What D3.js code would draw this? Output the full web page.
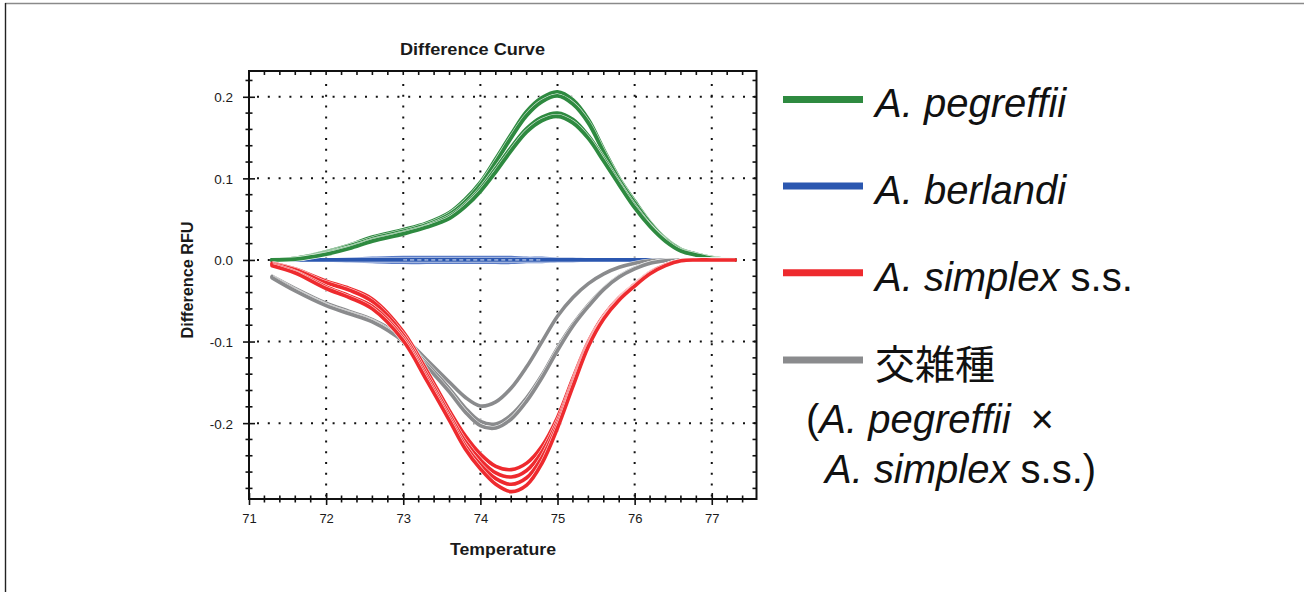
<!DOCTYPE html>
<html>
<head>
<meta charset="utf-8">
<script src="https://cdn.jsdelivr.net/npm/d3@7"></script>
<style>
  html, body { margin: 0; padding: 0; background: #fff; }
  svg { display: block; }
  text { font-family: "Liberation Sans", Arial, sans-serif; }
</style>
</head>
<body>
<div id="chart"></div>
<script>
// difference curve values
var temps = [71.3, 71.6, 72.0, 72.3, 72.6, 73.0, 73.3, 73.6, 73.8, 74.0, 74.2, 74.4, 74.6, 74.8, 75.0, 75.2, 75.4, 75.6, 75.8, 76.0, 76.2, 76.4, 76.6, 76.8, 77.0, 77.3]

var pegreffii = [
  [0, .002, .010, .018, .028, .037, .045, .058, .074, .095, .124, .154, .182, .199, .206, .196, .172, .135, .100, .072, .046, .026, .013, .007, .003, 0],
  [0, .002, .009, .017, .026, .035, .043, .056, .071, .092, .120, .150, .177, .194, .201, .191, .168, .132, .098, .070, .045, .025, .013, .007, .003, 0],
  [0, .001, .008, .015, .024, .033, .041, .053, .067, .087, .112, .138, .161, .175, .180, .172, .152, .124, .094, .066, .042, .024, .012, .006, .002, 0],
  [0, .001, .007, .014, .023, .032, .040, .051, .065, .084, .108, .134, .157, .171, .176, .168, .149, .121, .092, .064, .041, .023, .011, .006, .002, 0]
]
var berlandi = [
  [0, 0, 0, .001, .002, .003, .003, .003, .003, .003, .003, .003, .002, .002, .001, .001, 0, 0, 0, 0, 0, 0, 0, 0, 0, 0],
  [0, 0, 0, -.001, -.002, -.003, -.003, -.003, -.003, -.003, -.003, -.003, -.002, -.002, -.001, -.001, 0, 0, 0, 0, 0, 0, 0, 0, 0, 0],
  [0, 0, 0, 0, 0, 0, 0, 0, 0, 0, 0, 0, 0, 0, 0, 0, 0, 0, 0, 0, 0, 0, 0, 0, 0, 0]
]
var simplex = [
  [-.004, -.011, -.026, -.035, -.048, -.088, -.135, -.185, -.215, -.238, -.253, -.257, -.249, -.228, -.193, -.145, -.100, -.068, -.046, -.030, -.015, -.006, -.001, 0, 0, 0],
  [-.005, -.012, -.028, -.037, -.051, -.092, -.140, -.190, -.222, -.245, -.261, -.266, -.258, -.235, -.198, -.149, -.102, -.070, -.047, -.031, -.016, -.006, -.001, 0, 0, 0],
  [-.006, -.015, -.033, -.044, -.057, -.096, -.144, -.194, -.227, -.251, -.268, -.275, -.267, -.242, -.202, -.152, -.104, -.071, -.048, -.031, -.016, -.006, -.001, 0, 0, 0],
  [-.007, -.016, -.035, -.046, -.060, -.099, -.147, -.197, -.231, -.256, -.275, -.284, -.276, -.249, -.206, -.155, -.106, -.072, -.049, -.032, -.017, -.007, -.001, 0, 0, 0]
]
var hybrid = [
  [-.020, -.035, -.053, -.063, -.073, -.095, -.122, -.150, -.168, -.179, -.174, -.157, -.131, -.100, -.069, -.046, -.029, -.017, -.009, -.004, -.001, 0, 0, 0, 0, 0],
  [-.021, -.037, -.055, -.065, -.075, -.098, -.127, -.158, -.181, -.198, -.201, -.190, -.169, -.141, -.108, -.079, -.055, -.035, -.020, -.010, -.004, -.001, 0, 0, 0, 0],
  [-.022, -.038, -.056, -.066, -.076, -.100, -.130, -.162, -.186, -.203, -.206, -.195, -.173, -.144, -.111, -.081, -.057, -.036, -.021, -.011, -.004, -.001, 0, 0, 0, 0]
]

var xMajor = [71, 72, 73, 74, 75, 76, 77]
var yMajor = [-0.2, -0.1, 0, 0.1, 0.2]

var legendNames = ['A. pegreffii', 'A. berlandi', 'A. simplex', '交雑種']
var legendSuffix = ['', '', ' s.s.', '']
var colors = ['#2e8a40', '#2b57b0', '#ee2a2e', '#8a8b8d']

var W = 1304, H = 592
var plot = {left: 249, right: 756.5, top: 71, bottom: 499}

var svg = d3.select('#chart').append('svg').attr('width', W).attr('height', H)
svg.append('rect').attr('width', W).attr('height', H).attr('fill', '#fff')

// page border bits
svg.append('line').attr('x1', 5).attr('x2', W).attr('y1', 3.5).attr('y2', 3.5).attr('stroke', '#8a8a8a').attr('stroke-width', 1.6)
svg.append('line').attr('x1', 5.5).attr('x2', 5.5).attr('y1', 3).attr('y2', H).attr('stroke', '#222').attr('stroke-width', 1.4)

var x = d3.scaleLinear().domain([71, 77.58]).range([plot.left, plot.right])
var y = d3.scaleLinear().domain([-0.293, 0.2316]).range([plot.bottom, plot.top])

// dotted grid
var grid = svg.append('g')
grid.selectAll('.hg').data(yMajor).enter().append('line')
  .attr('x1', plot.left + 8).attr('x2', plot.right)
  .attr('y1', function(d) { return y(d) }).attr('y2', function(d) { return y(d) })
  .attr('stroke', '#111').attr('stroke-width', 2).attr('stroke-dasharray', '2,8.8')
grid.selectAll('.vg').data(xMajor.slice(1)).enter().append('line')
  .attr('y1', plot.top + 13).attr('y2', plot.bottom)
  .attr('x1', function(d) { return x(d) }).attr('x2', function(d) { return x(d) })
  .attr('stroke', '#111').attr('stroke-width', 2).attr('stroke-dasharray', '2,8.8')

// curves
var line = d3.line()
  .x(function(d) { return x(d[0]) })
  .y(function(d) { return y(d[1]) })
  .curve(d3.curveCatmullRom.alpha(0.5))

var toPts = function(vals) { return vals.map(function(v, i) { return [temps[i], v] }) }

var drawGroup = function(group, color, w) {
  var g = svg.append('g')
  group.forEach(function(vals) {
    g.append('path').attr('d', line(toPts(vals))).attr('fill', 'none')
      .attr('stroke', '#fff').attr('stroke-width', w + 1.1).attr('stroke-opacity', 0.85)
    g.append('path').attr('d', line(toPts(vals))).attr('fill', 'none')
      .attr('stroke', color).attr('stroke-width', w).attr('stroke-linecap', 'round')
  })
}

drawGroup(berlandi.slice(0, 2), '#5a7bc6', 3.4)
drawGroup(berlandi.slice(2), colors[1], 3.8)
// white dashed trace through the middle of the blue bundle
var mid = toPts(berlandi[2]).filter(function(p) { return p[0] >= 72.9 && p[0] <= 74.9 })
svg.append('path').attr('d', line(mid)).attr('fill', 'none')
  .attr('stroke', '#fff').attr('stroke-width', 1).attr('stroke-dasharray', '4,3').attr('opacity', 0.85)
drawGroup(hybrid, colors[3], 3.6)
drawGroup(pegreffii, colors[0], 3.8)
drawGroup(simplex, colors[2], 3.6)

// frame
svg.append('rect').attr('x', plot.left).attr('y', plot.top)
  .attr('width', plot.right - plot.left).attr('height', plot.bottom - plot.top)
  .attr('fill', 'none').attr('stroke', '#111').attr('stroke-width', 2)

var xMinor = d3.range(71.2, 77.58, 0.2).filter(function(d) { return Math.abs(d - Math.round(d)) > 0.05 })
var yMinor = d3.range(-0.28, 0.23, 0.02).filter(function(d) { return Math.abs(d * 10 - Math.round(d * 10)) > 0.05 })

// axes (labels + major ticks crossing the frame)
var xAxis = svg.append('g').attr('transform', 'translate(0,' + plot.bottom + ')')
  .call(d3.axisBottom(x).tickValues(xMajor).tickSize(6).tickFormat(d3.format('d')))
xAxis.select('.domain').remove()
xAxis.selectAll('.tick line').attr('y1', -6).attr('stroke', '#111').attr('stroke-width', 1.6)
xAxis.selectAll('.tick text').attr('dy', null).attr('y', 24).attr('fill', '#1a1a1a')
  .style('font-size', '13px').style('font-family', '"Liberation Sans", Arial, sans-serif')

var yAxis = svg.append('g').attr('transform', 'translate(' + plot.left + ',0)')
  .call(d3.axisLeft(y).tickValues(yMajor).tickSize(6).tickPadding(10)
    .tickFormat(function(d) { return d.toFixed(1) }))
yAxis.select('.domain').remove()
yAxis.selectAll('.tick line').attr('x1', 6).attr('stroke', '#111').attr('stroke-width', 1.6)
yAxis.selectAll('.tick text').attr('dy', '0.36em').attr('fill', '#1a1a1a')
  .style('font-size', '13.5px').style('font-family', '"Liberation Sans", Arial, sans-serif')

// minor ticks on all four sides
var ticks = svg.append('g').attr('stroke', '#111').attr('stroke-width', 1.6)
ticks.selectAll('.bx').data(xMinor).enter().append('line')
  .attr('x1', function(d) { return x(d) }).attr('x2', function(d) { return x(d) })
  .attr('y1', plot.bottom - 3.5).attr('y2', plot.bottom + 3.5)
ticks.selectAll('.tx').data(xMinor.concat(xMajor.slice(1))).enter().append('line')
  .attr('x1', function(d) { return x(d) }).attr('x2', function(d) { return x(d) })
  .attr('y1', plot.top).attr('y2', plot.top + 4)
ticks.selectAll('.ly').data(yMinor).enter().append('line')
  .attr('y1', function(d) { return y(d) }).attr('y2', function(d) { return y(d) })
  .attr('x1', plot.left - 3.5).attr('x2', plot.left + 3.5)
ticks.selectAll('.ry').data(yMinor.concat(yMajor)).enter().append('line')
  .attr('y1', function(d) { return y(d) }).attr('y2', function(d) { return y(d) })
  .attr('x1', plot.right - 4).attr('x2', plot.right)

// titles
svg.append('text').attr('x', 472.5).attr('y', 55).attr('text-anchor', 'middle')
  .attr('textLength', 145).attr('lengthAdjust', 'spacingAndGlyphs')
  .style('font-size', '16px').style('font-weight', 'bold').attr('fill', '#1a1a1a').text('Difference Curve')
svg.append('text').attr('x', 503).attr('y', 555).attr('text-anchor', 'middle')
  .attr('textLength', 106).attr('lengthAdjust', 'spacingAndGlyphs')
  .style('font-size', '16.5px').style('font-weight', 'bold').attr('fill', '#1a1a1a').text('Temperature')
svg.append('text').attr('transform', 'translate(193,280) rotate(-90)').attr('text-anchor', 'middle')
  .attr('textLength', 117).attr('lengthAdjust', 'spacingAndGlyphs')
  .style('font-size', '17px').style('font-weight', 'bold').attr('fill', '#1a1a1a').text('Difference RFU')

// legend
var legY = [99.5, 186, 272.7, 360]
var legBase = [116.7, 204, 290.7, 378.5]
var leg = svg.append('g')
legendNames.forEach(function(name, i) {
  leg.append('line').attr('x1', 783).attr('x2', 863).attr('y1', legY[i]).attr('y2', legY[i])
    .attr('stroke', colors[i]).attr('stroke-width', 7)
  var t = leg.append('text').attr('x', 875).attr('y', legBase[i]).attr('fill', '#111')
    .style('font-size', '40px')
  if (i == 3) {
    t.style('font-family', '"Noto Sans CJK JP", sans-serif').style('font-size', '40px').text(name)
  } else {
    t.append('tspan').style('font-style', 'italic').text(name)
    if (legendSuffix[i]) t.append('tspan').text(legendSuffix[i])
  }
})
var l5 = leg.append('text').attr('x', 806).attr('y', 433.3).attr('fill', '#111').style('font-size', '40px')
l5.append('tspan').text('(')
l5.append('tspan').style('font-style', 'italic').text(legendNames[0])
l5.append('tspan').text('\u2002\u00d7')
var l6 = leg.append('text').attr('x', 825).attr('y', 483.3).attr('fill', '#111').style('font-size', '40px')
l6.append('tspan').style('font-style', 'italic').text(legendNames[2])
l6.append('tspan').text(legendSuffix[2] + ')')
</script>
</body>
</html>
